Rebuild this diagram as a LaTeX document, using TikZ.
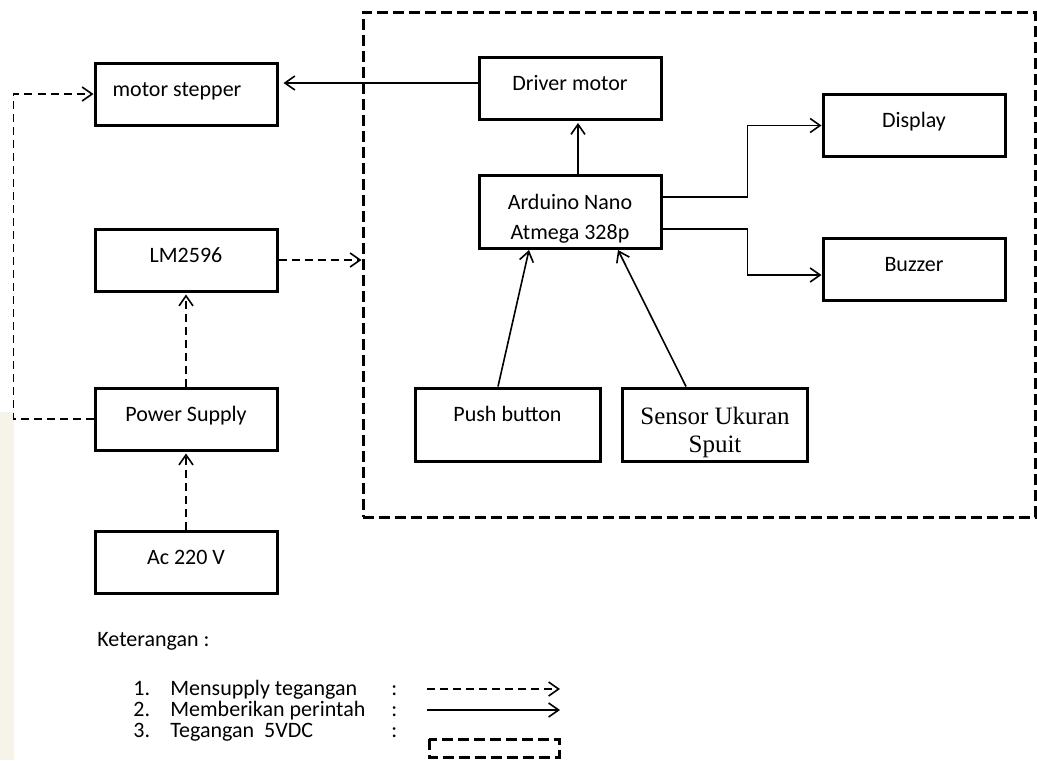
\documentclass[tikz,border=0pt]{standalone}
\usepackage{fontspec}
\setmainfont{Carlito}
\newfontfamily\serifspuit{Liberation Serif}
\usetikzlibrary{arrows.meta}
\definecolor{krem}{HTML}{F6F3E9}
\tikzset{
	blok/.style={draw,line width=1.5pt,minimum width=91pt,minimum height=31pt,inner sep=0pt,font=\fontsize{11}{13}\selectfont},
	satu/.style={text height=8pt,text depth=#1},
	satu/.default=6pt,
	perintah/.style={line width=0.8pt,arrows={-Straight Barb[length=5pt,width=7pt]}},
	suplai/.style={perintah,dash pattern=on 4pt off 2.5pt},
	batas/.style={line width=1.5pt,dash pattern=on 5.5pt off 2.5pt},
	ket/.style={anchor=base west,inner sep=0pt,font=\fontsize{11}{13}\selectfont}
}
% kotak satu baris: [opsi]{nama}{teks}{x}{y}
\newcommand{\blok}[5][]{\node[blok,satu,#1](#2) at (#4,#5) {#3};}

\begin{document}
\begin{tikzpicture}[x=0.5pt,y=-0.5pt]
	\useasboundingbox (0,0) rectangle (1037,760);
	\fill[krem] (0,412) rectangle (14,760);

	% bagian 5 VDC
	\node[batas,draw,minimum width=336pt,minimum height=252.5pt,inner sep=0pt](sistem) at (699,264.5) {};
	\blok{driver}{Driver motor}{570}{88.5}
	\blok{display}{Display}{914}{125.5}
	\blok{buzzer}{Buzzer}{914}{269}
	\node[blok,minimum height=36.5pt,align=center,font=\fontsize{11}{15}\selectfont](arduino) at (570,212) {\rule{0pt}{14pt}Arduino Nano\\Atmega 328p};
	\blok[minimum width=92.5pt,minimum height=36.5pt,satu=11pt]{push}{Push button}{507.5}{424.5}
	\node[blok,minimum width=92.5pt,minimum height=36.5pt,align=center,font=\serifspuit\fontsize{12.5}{14}\selectfont](sensor) at (715,424.5) {\rule{0pt}{17pt}Sensor Ukuran\\Spuit};

	% catu daya
	\blok{motor}{motor stepper\hspace*{9pt}}{186}{94}
	\blok{lm}{LM2596}{186}{260}
	\blok{psu}{Power Supply}{186}{419}
	\blok{ac}{Ac 220 V}{186}{562}

	\draw[perintah,shorten >=2.5pt] ([yshift=2.75pt]driver.west) -- ([yshift=2.75pt]driver.west -| motor.east);
	\draw[perintah,shorten >=1pt] ([xshift=4pt]arduino.north) -- ([xshift=4pt]driver.south);
	\draw[perintah] ([yshift=7.5pt]arduino.east) -- ++(42.5pt,0) |- (display.west);
	\draw[perintah] ([yshift=-8.5pt]arduino.east) -- ++(42.5pt,0) |- ([yshift=-3pt]buzzer.west);
	\draw[perintah] ([xshift=-4.75pt]push.north) -- ([xshift=-20.5pt]arduino.south);
	\draw[perintah] ([xshift=-14.5pt]sensor.north) -- ([xshift=24pt]arduino.south);

	\draw[suplai] (lm.east) -- (lm.east -| sistem.west);
	\draw[suplai,shorten >=1pt] (psu.north) -- (lm.south);
	\draw[suplai,shorten >=1pt] (ac.north) -- (psu.south);
	\draw[suplai] (psu.west) -- ++(-40pt,0) |- (motor.west);

	% keterangan
	\node[ket](judul) at (97,646) {Keterangan :};
	\node[ket](no1) at (133,695) {1.};
	\node[ket](no2) at (133,716) {2.};
	\node[ket](no3) at (133,737) {3.};
	\node[ket](ket1) at (170,695) {Mensupply tegangan};
	\node[ket](ket2) at (170,716) {Memberikan perintah};
	\node[ket](ket3) at (170,737) {Tegangan\ \ 5VDC};
	\node[ket](tk1) at (391,695) {:};
	\node[ket](tk2) at (391,716) {:};
	\node[ket](tk3) at (391,737) {:};
	\coordinate (ka1) at (427,689);
	\coordinate (kb1) at (560,689);
	\coordinate (ka2) at (427,710);
	\coordinate (kb2) at (560,710);
	\coordinate (ka3) at (429,739);
	\coordinate (kb3) at (559,757);
	\draw[suplai] (ka1) -- (kb1);
	\draw[perintah] (ka2) -- (kb2);
	\draw[batas] (ka3) rectangle (kb3);
\end{tikzpicture}
\end{document}
